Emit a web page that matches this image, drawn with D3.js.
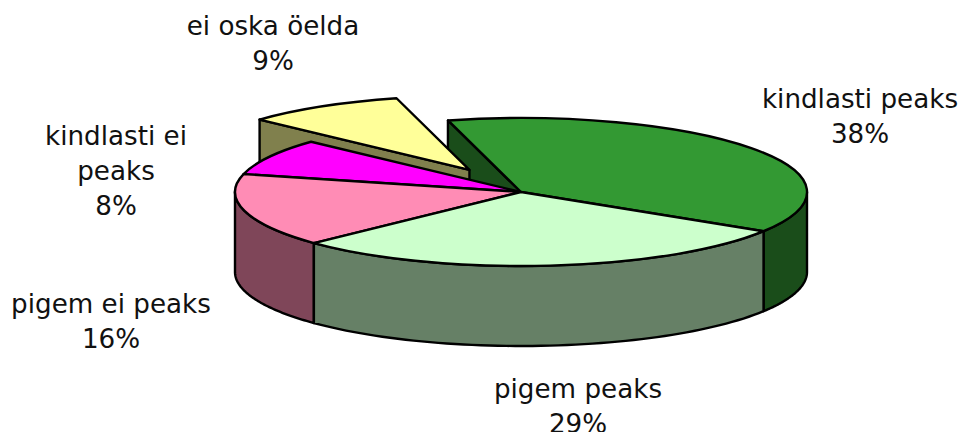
<!DOCTYPE html>
<html>
<head>
<meta charset="utf-8">
<script src="https://cdn.jsdelivr.net/npm/d3@7"></script>
<style>
  html, body { margin: 0; padding: 0; background: #fff; overflow: hidden; }
  text { font-family: "DejaVu Sans", sans-serif; font-size: 26.2px; fill: #111; }
</style>
</head>
<body>
<div id="chart"></div>
<script>
// data
const categories = ['kindlasti peaks', 'pigem peaks', 'pigem ei peaks', 'kindlasti ei peaks', 'ei oska öelda'];
const values = [38, 29, 16, 8, 9];

// chart space
const width = 960;
const height = 432;
const cx = 521, cy = 192;
const rx = 286, ry = 74;
const depth = 80;
const startAngle = -14.8 * Math.PI / 180;
const explodedCategory = 'ei oska öelda';
const explodeBy = 0.35;

const topColors = d3.scaleOrdinal().domain(categories)
  .range(['#339933', '#ccffcc', '#ff8cb5', '#ff00ff', '#ffff99']);
const sideColors = d3.scaleOrdinal().domain(categories)
  .range(['#1a4d1a', '#668066', '#7f4659', '#800080', '#80804d']);

// label lines and where they sit
const labelPlacement = [
  { lines: ['kindlasti peaks'], x: 860, y: 108 },
  { lines: ['pigem peaks'], x: 578, y: 398 },
  { lines: ['pigem ei peaks'], x: 111, y: 313 },
  { lines: ['kindlasti ei', 'peaks'], x: 116, y: 145 },
  { lines: ['ei oska öelda'], x: 273, y: 35 }
];

const svg = d3.create('svg').attr('width', width).attr('height', height);

const slices = d3.pie().value((d, i) => values[i]).sort(null)
  .startAngle(startAngle).endAngle(startAngle + 2 * Math.PI)(categories);

// unit circle -> screen
const xScale = d3.scaleLinear().domain([-1, 1]).range([-rx, rx]);
const yScale = d3.scaleLinear().domain([-1, 1]).range([-ry, ry]);
const px = a => xScale(Math.sin(a));
const py = a => yScale(-Math.cos(a));

const line = d3.line();
const arcTop = d3.arc().innerRadius(0).outerRadius(1);

function offset(s) {
  if (s.data !== explodedCategory) return [cx, cy];
  const mid = (s.startAngle + s.endAngle) / 2;
  return [cx + explodeBy * px(mid), cy + explodeBy * py(mid)];
}

function group(s) {
  const [ox, oy] = offset(s);
  return svg.append('g').attr('transform', `translate(${ox},${oy})`);
}

function styled(sel, color) {
  return sel.attr('fill', color)
    .attr('stroke', '#000')
    .attr('stroke-width', 2.4)
    .attr('stroke-linejoin', 'round')
    .attr('vector-effect', 'non-scaling-stroke');
}

// flat side running from the centre out to the rim at angle a
function drawRadialWall(s, a) {
  const pts = [[0, 0], [px(a), py(a)], [px(a), py(a) + depth], [0, depth]];
  styled(group(s).append('path').attr('d', line(pts) + 'Z'), sideColors(s.data));
}

// curved outer wall, only the part that faces the viewer
function drawOuterWall(s) {
  const from = Math.max(s.startAngle, Math.PI / 2);
  const to = Math.min(s.endAngle, 3 * Math.PI / 2);
  if (to <= from) return;
  const steps = d3.range(0, 61).map(i => from + (to - from) * i / 60);
  const upper = steps.map(a => [px(a), py(a)]);
  const lower = steps.slice().reverse().map(a => [px(a), py(a) + depth]);
  styled(group(s).append('path').attr('d', line(upper.concat(lower)) + 'Z'), sideColors(s.data));
}

function drawTop(s) {
  styled(group(s).append('path')
    .attr('transform', `scale(${rx},${ry})`)
    .attr('d', arcTop(s)), topColors(s.data));
}

const byName = name => slices.find(s => s.data === name);
const [green, light, pink, magenta, yellow] = categories.map(byName);

// painter's order, back to front
drawRadialWall(green, green.startAngle);
drawRadialWall(yellow, yellow.startAngle);
drawTop(yellow);
drawTop(magenta);
drawOuterWall(pink);
drawTop(pink);
drawOuterWall(green);
drawTop(green);
drawOuterWall(light);
drawTop(light);

// labels
const lineGap = 35;
labelPlacement.forEach((p, i) => {
  const lines = p.lines.concat([values[i] + '%']);
  lines.forEach((t, j) => {
    svg.append('text')
      .attr('x', p.x)
      .attr('y', p.y + j * lineGap)
      .attr('text-anchor', 'middle')
      .text(t);
  });
});

document.getElementById('chart').appendChild(svg.node());
</script>
</body>
</html>
